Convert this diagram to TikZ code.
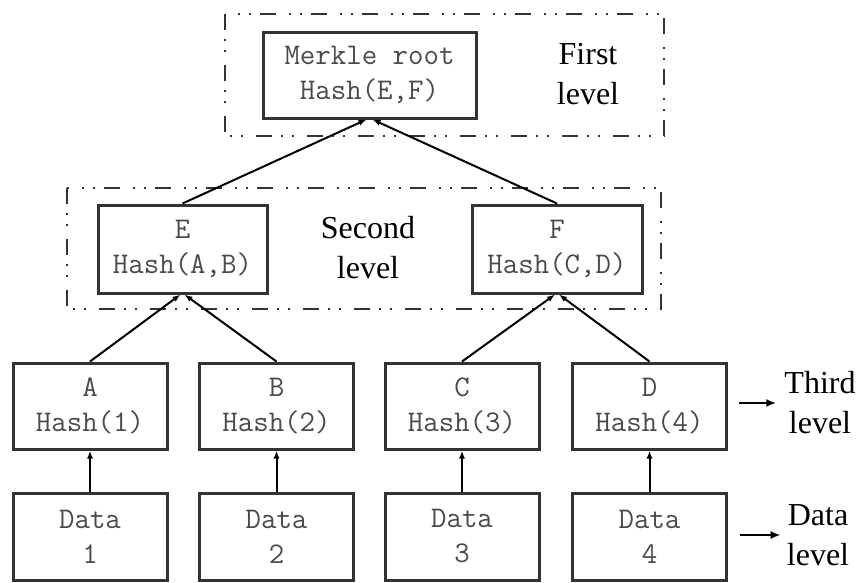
\documentclass[tikz,border=0pt]{standalone}
\usepackage{fontspec}
\newfontfamily\labelfont{Liberation Serif}
\usetikzlibrary{arrows.meta}
\definecolor{boxtext}{HTML}{4A4A4A}
\definecolor{boxline}{HTML}{333333}
\tikzset{
  hashbox/.style={draw=boxline, line width=3pt, rectangle, inner sep=0pt,
    minimum width=154pt, minimum height=86pt, align=center,
    text=boxtext, font=\ttfamily\fontsize{30}{35}\selectfont},
  levelbox/.style={draw=boxline, line width=2.6pt,
    dash pattern=on 16pt off 9pt on 2pt off 9pt on 2pt off 13pt},
  levellabel/.style={align=center, font=\labelfont\fontsize{32}{40}\selectfont, inner sep=0pt},
  link/.style={line width=2pt, -{Latex[length=8pt,width=6pt]}},
  sidearrow/.style={line width=2pt, -{Latex[length=10pt,width=8pt]}}
}
\begin{document}
\begin{tikzpicture}[x=1pt, y=-1pt]
\useasboundingbox (0,0) rectangle (860,582);

% dash-dotted frames around the upper two levels
\draw[levelbox] (225,14) rectangle (664,136);
\draw[levelbox] (67,188) rectangle (661,309);

% root
\node[hashbox, minimum width=213pt] (root) at (369.5,75) {Merkle root\\Hash(E,F)};
\node[levellabel] (first) at (588,74) {First\\level};

% second level
\node[hashbox, minimum width=169pt, minimum height=88pt] (E) at (182.5,249) {E\\Hash(A,B)};
\node[hashbox, minimum width=170pt, minimum height=88pt] (F) at (557,249) {F\\Hash(C,D)};
\node[levellabel] (second) at (368,248) {Second\\level};

% third level
\node[hashbox] (A) at (90,406) {A\\Hash(1)};
\node[hashbox] (B) at (276.5,406) {B\\Hash(2)};
\node[hashbox] (C) at (462,406) {C\\Hash(3)};
\node[hashbox] (D) at (649.5,406) {D\\Hash(4)};
\node[levellabel] (third) at (820,403) {Third\\level};

% data blocks
\node[hashbox, minimum height=87pt] (d1) at (90,536.5) {Data\\1};
\node[hashbox, minimum height=87pt] (d2) at (276.5,536.5) {Data\\2};
\node[hashbox, minimum height=87pt] (d3) at (462,536.5) {Data\\3};
\node[hashbox, minimum height=87pt] (d4) at (649.5,536.5) {Data\\4};
\node[levellabel] (datalev) at (818,535) {Data\\level};

% hashing links
\draw[link] (d1.north) -- (A.south);
\draw[link] (d2.north) -- (B.south);
\draw[link] (d3.north) -- (C.south);
\draw[link] (d4.north) -- (D.south);
\draw[link] (A.north) -- ([xshift=-2pt]E.south);
\draw[link] (B.north) -- ([xshift=2pt]E.south);
\draw[link] (C.north) -- ([xshift=-2pt]F.south);
\draw[link] (D.north) -- ([xshift=2pt]F.south);
\draw[link] (E.north) -- ([xshift=-3pt]root.south);
\draw[link] (F.north) -- ([xshift=3pt]root.south);

% level pointers
\draw[sidearrow] ([xshift=11pt]D.east |- third.west) -- ([xshift=-8pt]third.west);
\draw[sidearrow] ([xshift=12pt]d4.east |- datalev.west) -- ([xshift=-6pt]datalev.west);
\end{tikzpicture}
\end{document}
